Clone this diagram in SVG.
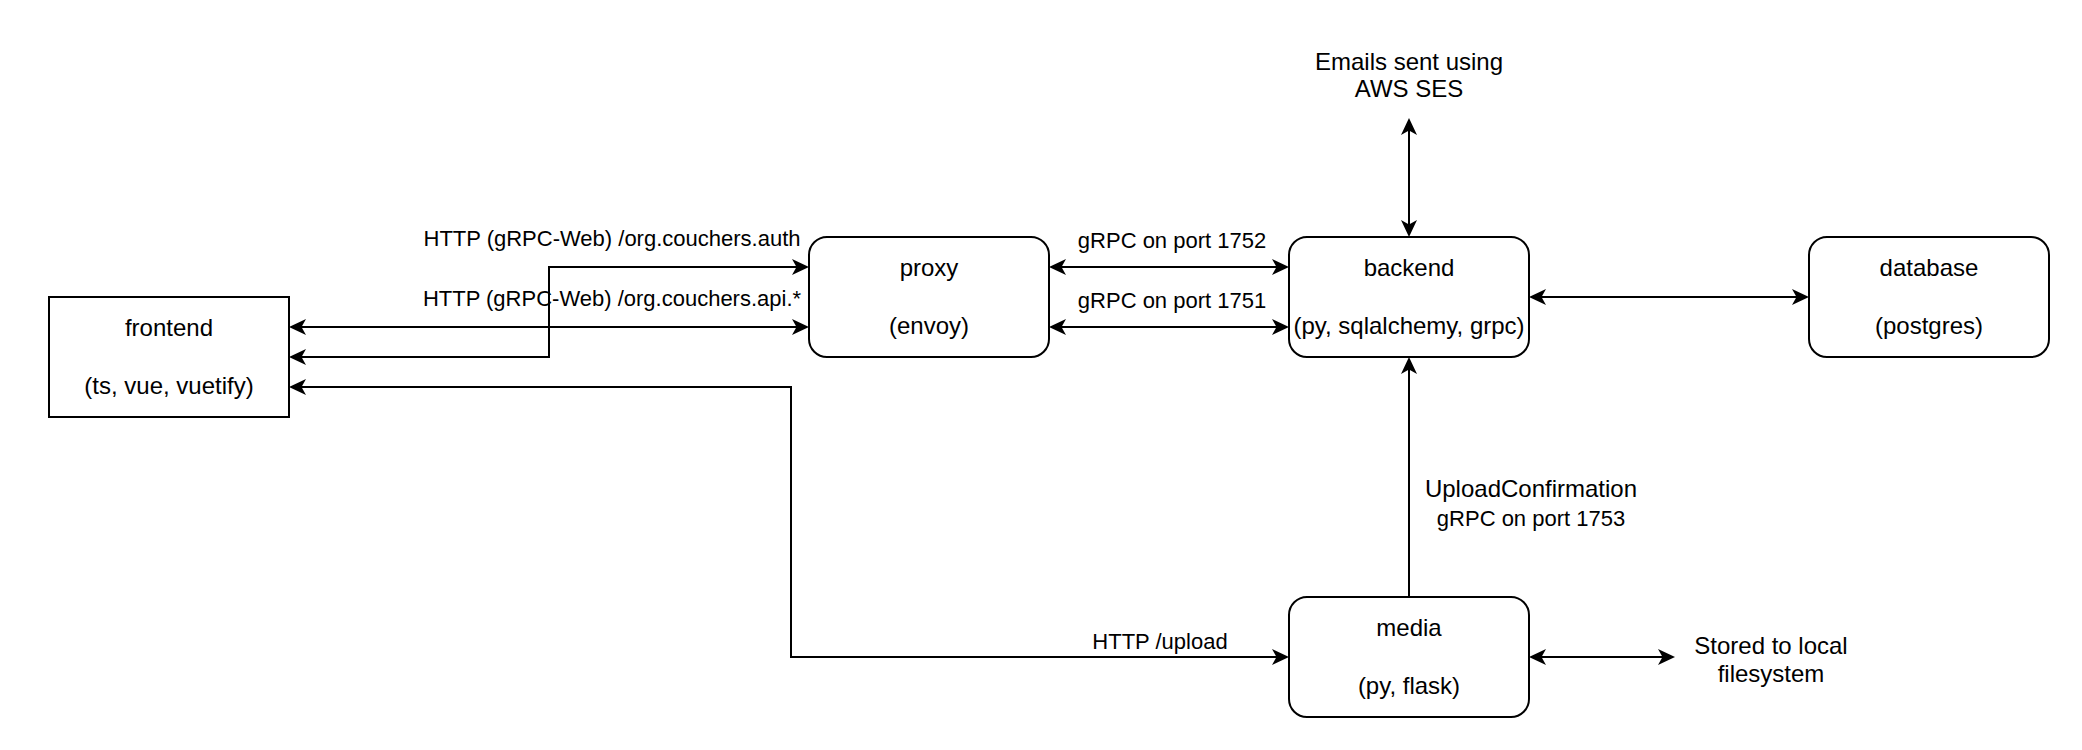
<svg xmlns="http://www.w3.org/2000/svg" width="2082" height="750" viewBox="0 0 2082 750">
  <style>
    .box { fill: #ffffff; stroke: #000000; stroke-width: 2; }
    .edge { fill: none; stroke: #000000; stroke-width: 2; }
    .nl { font-family: "Liberation Sans", Arial, Helvetica, sans-serif; font-size: 24px; fill: #000000; text-anchor: middle; }
    .el { font-family: "Liberation Sans", Arial, Helvetica, sans-serif; font-size: 22px; fill: #000000; text-anchor: middle; }
  </style>
  <defs>
    <marker id="arr" markerUnits="userSpaceOnUse" markerWidth="22" markerHeight="20" viewBox="-19 -10 22 20" refX="-10" refY="0" orient="auto-start-reverse">
      <path d="M0,0 L-17,-8 L-12.5,0 L-17,8 Z" fill="#000000"/>
    </marker>
  </defs>
  <rect width="2082" height="750" fill="#ffffff"/>

  <g id="connectors">
    <path class="edge" d="M299,327 L799,327" marker-start="url(#arr)" marker-end="url(#arr)"/>
    <path class="edge" d="M299,357 L549,357 L549,267 L799,267" marker-start="url(#arr)" marker-end="url(#arr)"/>
    <path class="edge" d="M299,387 L791,387 L791,657 L1279,657" marker-start="url(#arr)" marker-end="url(#arr)"/>
    <path class="edge" d="M1059,267 L1279,267" marker-start="url(#arr)" marker-end="url(#arr)"/>
    <path class="edge" d="M1059,327 L1279,327" marker-start="url(#arr)" marker-end="url(#arr)"/>
    <path class="edge" d="M1539,297 L1799,297" marker-start="url(#arr)" marker-end="url(#arr)"/>
    <path class="edge" d="M1409,227 L1409,128" marker-start="url(#arr)" marker-end="url(#arr)"/>
    <path class="edge" d="M1409,597 L1409,367" marker-end="url(#arr)"/>
    <path class="edge" d="M1539,657 L1665,657" marker-start="url(#arr)" marker-end="url(#arr)"/>

    <text class="el" x="612" y="246">HTTP (gRPC-Web) /org.couchers.auth</text>
    <text class="el" x="612" y="306">HTTP (gRPC-Web) /org.couchers.api.*</text>
    <text class="el" x="1172" y="248">gRPC on port 1752</text>
    <text class="el" x="1172" y="308">gRPC on port 1751</text>
    <text class="nl" x="1531" y="497">UploadConfirmation</text>
    <text class="el" x="1531" y="526">gRPC on port 1753</text>
    <text class="el" x="1160" y="649">HTTP /upload</text>
  </g>

  <g id="frontend">
    <rect class="box" x="49" y="297" width="240" height="120"/>
    <text class="nl" x="169" y="336">frontend</text>
    <text class="nl" x="169" y="394">(ts, vue, vuetify)</text>
  </g>

  <g id="proxy">
    <rect class="box" x="809" y="237" width="240" height="120" rx="18" ry="18"/>
    <text class="nl" x="929" y="276">proxy</text>
    <text class="nl" x="929" y="334">(envoy)</text>
  </g>

  <g id="backend">
    <rect class="box" x="1289" y="237" width="240" height="120" rx="18" ry="18"/>
    <text class="nl" x="1409" y="276">backend</text>
    <text class="nl" x="1409" y="334">(py, sqlalchemy, grpc)</text>
  </g>

  <g id="database">
    <rect class="box" x="1809" y="237" width="240" height="120" rx="18" ry="18"/>
    <text class="nl" x="1929" y="276">database</text>
    <text class="nl" x="1929" y="334">(postgres)</text>
  </g>

  <g id="media">
    <rect class="box" x="1289" y="597" width="240" height="120" rx="18" ry="18"/>
    <text class="nl" x="1409" y="636">media</text>
    <text class="nl" x="1409" y="694">(py, flask)</text>
  </g>

  <g id="emails">
    <text class="nl" x="1409" y="70">Emails sent using</text>
    <text class="nl" x="1409" y="97">AWS SES</text>
  </g>

  <g id="storage">
    <text class="nl" x="1771" y="654">Stored to local</text>
    <text class="nl" x="1771" y="682">filesystem</text>
  </g>
</svg>
